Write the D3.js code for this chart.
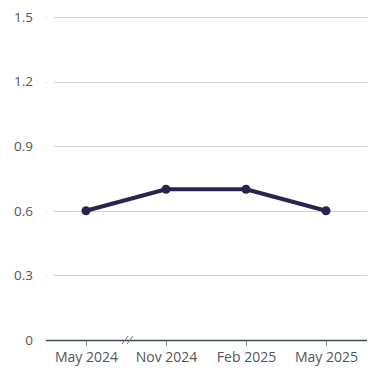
<!DOCTYPE html>
<html><head><meta charset="utf-8">
<script src="https://cdn.jsdelivr.net/npm/d3@7"></script>
<style>body{margin:0;background:#fff;}svg{display:block;font-family:"Open Sans",sans-serif;}</style>
</head><body>
<svg id="c" width="391" height="381"></svg>
<script>
const categories = ["May 2024", "Nov 2024", "Feb 2025", "May 2025"];
const values = [0.6, 0.7, 0.7, 0.6];
const yTicks = [0, 0.3, 0.6, 0.9, 1.2, 1.5];

(function () {
const svg = d3.select("#c");
const mLeft = 46, mRight = 367, mTop = 17, mBottom = 340;
const x = d3.scalePoint().domain(categories).range([86, 326]);
const y = d3.scaleLinear().domain([0, 1.5]).range([mBottom, mTop]);

// gridlines
svg.append("g").selectAll("line").data(yTicks.filter(d => d > 0)).join("line")
  .attr("x1", 54).attr("x2", mRight).attr("y1", d => Math.round(y(d)) + 0.5).attr("y2", d => Math.round(y(d)) + 0.5)
  .attr("stroke", "#d0d0d0").attr("stroke-width", 1);
svg.append("g").selectAll("rect").data(yTicks.filter(d => d > 0)).join("rect")
  .attr("x", 46).attr("y", d => Math.round(y(d))).attr("width", 1).attr("height", 1).attr("fill", "#ccc");

// y labels
svg.append("g").selectAll("text").data(yTicks).join("text")
  .attr("x", 33).attr("y", d => y(d)).attr("dy", "0.35em").attr("text-anchor", "end")
  .attr("font-size", 13.5).attr("fill", "#555").text(d => d === 0 ? "0" : d3.format(".1f")(d));

// x axis
const xa = svg.append("g").attr("transform", `translate(0,${mBottom})`)
  .call(d3.axisBottom(x).tickSize(6).tickPadding(6));
xa.select(".domain").remove();
xa.selectAll(".tick line").attr("stroke", "#888");
xa.selectAll(".tick text").attr("font-size", 14).attr("fill", "#555").attr("font-family", "Open Sans, sans-serif");
svg.append("line").attr("x1", mLeft).attr("x2", mRight).attr("y1", mBottom + 0.5).attr("y2", mBottom + 0.5)
  .attr("stroke", "#3d4a5a").attr("stroke-width", 1.3);

// axis break
const bx = (x(categories[0]) + x(categories[1])) / 2 + 1.5;
[-2.5, 2.5].forEach(o => {
  svg.append("line").attr("x1", bx + o - 3).attr("y1", mBottom + 4).attr("x2", bx + o + 3).attr("y2", mBottom - 4)
    .attr("stroke", "#777").attr("stroke-width", 1);
});

// line
svg.append("path").datum(values)
  .attr("d", d3.line().x((d, i) => x(categories[i])).y(d => y(d)))
  .attr("fill", "none").attr("stroke", "#2a2350").attr("stroke-width", 4).attr("stroke-linejoin", "round");
svg.append("g").selectAll("circle").data(values).join("circle")
  .attr("cx", (d, i) => x(categories[i])).attr("cy", d => y(d)).attr("r", 4.5).attr("fill", "#2a2350");
})();
</script>
</body></html>
